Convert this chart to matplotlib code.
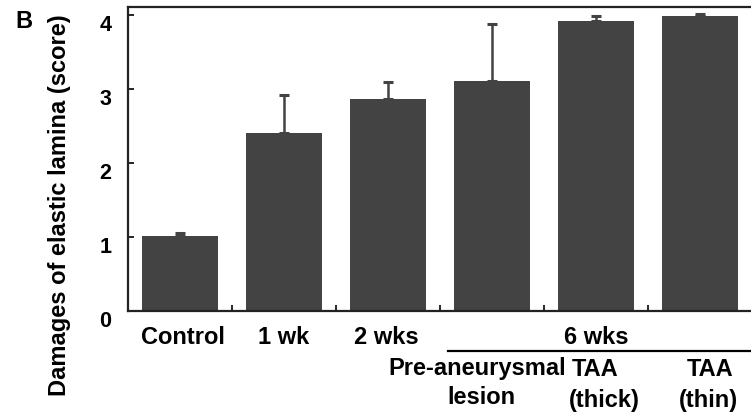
import matplotlib
matplotlib.use("Agg")
import matplotlib.pyplot as plt
import matplotlib.transforms as mtransforms
import numpy as np

categories = ["Control", "1 wk", "2 wks", "Pre-aneurysmal lesion", "TAA (thick)", "TAA (thin)"]
values = [1.02, 2.40, 2.86, 3.11, 3.92, 3.99]
err_top = [1.06, 2.92, 3.09, 3.88, 3.99, 4.02]
yticks = [0, 1, 2, 3, 4]

plt.rcParams['font.family'] = ['Liberation Sans', 'DejaVu Sans']
plt.rcParams['font.weight'] = 'bold'

W, H = 751, 417
fig = plt.figure(figsize=(W / 100, H / 100), dpi=100)
ax = fig.add_axes([128 / W, 1 - 311 / H, 624 / W, 304 / H])

x = np.arange(len(categories))
errs = np.array(err_top) - np.array(values)
color = '#434343'
ax.bar(x, values, width=0.73, color=color, zorder=2)
ax.errorbar(x, values, yerr=[np.zeros_like(errs), errs], fmt='none',
            ecolor=color, elinewidth=1.8, capsize=3.5, capthick=2.2, zorder=1)

ax.set_xlim(-0.5, 5.5)
ax.set_ylim(0, 4.11)
ax.set_yticks(yticks)
ax.set_yticklabels([str(t) for t in yticks], fontsize=15.5, fontweight='bold')
ax.set_xticks(np.arange(len(categories) - 1) + 0.5)
ax.set_xticklabels([])
ax.tick_params(axis='y', direction='in', length=4, width=1.2, pad=12)
ax.tick_params(axis='x', direction='in', length=4, width=1.2)
offset = mtransforms.ScaledTranslation(0, -8 / 100, fig.dpi_scale_trans)
for lab in ax.get_yticklabels():
    lab.set_transform(lab.get_transform() + offset)
for s in ['left', 'top', 'bottom']:
    ax.spines[s].set_linewidth(1.6)
    ax.spines[s].set_color('#222222')
ax.spines['right'].set_visible(False)

def fy(py):
    return 1 - py / H

def fx(px):
    return px / W

fs = 17
kw = dict(fontsize=fs, fontweight='bold', ha='center', va='center')
fig.text(fx(183), fy(337), categories[0], **kw)
fig.text(fx(284), fy(337), categories[1], **kw)
fig.text(fx(386), fy(337), categories[2], **kw)
fig.text(fx(596), fy(337), "6 wks", **kw)
fig.add_artist(plt.Line2D([fx(448), fx(751)], [fy(351), fy(351)],
                          color='black', linewidth=1.6, transform=fig.transFigure))
fig.text(fx(477), fy(369), "Pre-aneurysmal", **kw)
fig.text(fx(481), fy(398), "lesion", **kw)
fig.text(fx(595), fy(369), "TAA", **kw)
fig.text(fx(604), fy(400), "(thick)", **kw)
fig.text(fx(710), fy(369), "TAA", **kw)
fig.text(fx(708), fy(400), "(thin)", **kw)

fig.text(fx(60), fy(205), "Damages of elastic lamina (score)", rotation=90, **kw)
fig.text(fx(24), fy(21), "B", fontsize=17, fontweight='bold', ha='center', va='center')

fig.savefig("out.png", dpi=100)
